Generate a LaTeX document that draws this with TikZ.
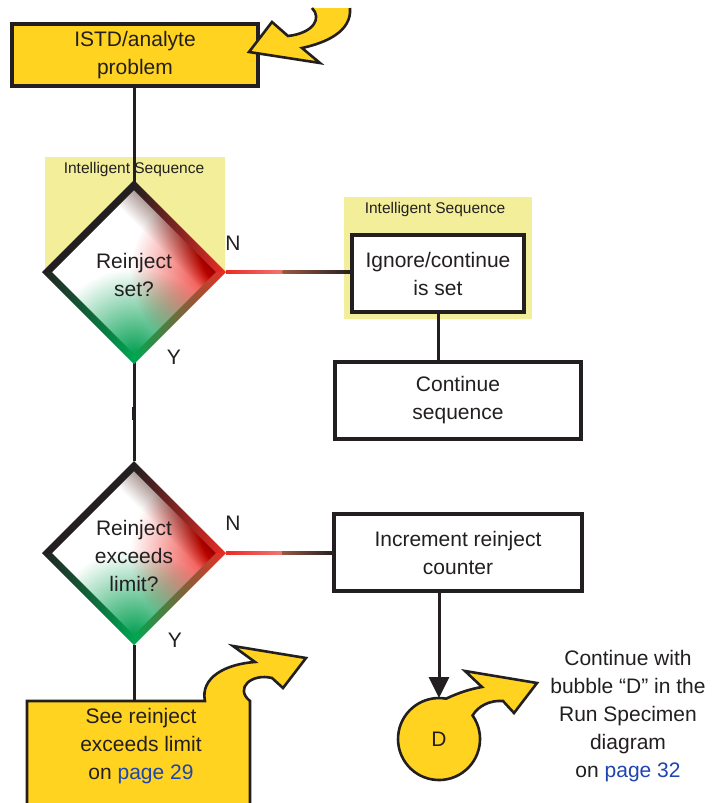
\documentclass[tikz,border=0pt]{standalone}
\usepackage{fontspec}
\setmainfont{Liberation Sans}
\usetikzlibrary{calc,arrows.meta,shapes.geometric}
\definecolor{darkc}{HTML}{231F20}
\definecolor{yellowc}{HTML}{FFD320}
\definecolor{palec}{HTML}{F3EE99}
\definecolor{redc}{HTML}{EC2A24}
\definecolor{greenc}{HTML}{00A651}
\definecolor{brownc}{HTML}{9C5642}
\definecolor{linkc}{HTML}{1F45B0}
\pgfdeclarefunctionalshading{gemfill}{\pgfpoint{-50bp}{-50bp}}{\pgfpoint{50bp}{50bp}}{}{
 25 div exch 25 div exch
 1 index 1 sub dup mul 1 index dup mul add sqrt 1.05 div 1 exch sub dup 0 lt {pop 0} if
 2 index dup mul 2 index 1 add dup mul add sqrt 1.05 div 1 exch sub dup 0 lt {pop 0} if
 3 index 3 index add 1 exch sub 0.4 div 1 exch sub dup 0 lt {pop 0} if 0.5 mul
 5 3 roll pop pop
 2 index 0.075 mul 1 exch sub 2 index sub 1 index 0.65 mul sub
 3 index 0.835 mul 1 exch sub 3 index 0.38 mul sub 2 index 0.8 mul sub
 4 index 0.859 mul 1 exch sub 4 index 0.69 mul sub 3 index 0.83 mul sub
 6 3 roll pop pop pop
}
\newcommand\mainf{\fontsize{21}{28}\selectfont}
\newcommand\smallf{\fontsize{15.5}{18}\selectfont}
\newcommand\gemshape[2]{%
\begin{scope}[shift={(#1,#2)}]
 \shade[shading=gemfill] (0,-83)--(83,0)--(0,83)--(-83,0)--cycle;
 \fill[darkc] (-92,0)--(0,-92)--(0,-82)--(-82,0)--cycle;
 \shade[left color=darkc, right color=redc] (0,-92)--(92,0)--(82,0)--(0,-82)--cycle;
 \shade[left color=greenc, right color=redc] (92,0)--(0,92)--(0,82)--(82,0)--cycle;
 \shade[left color=darkc, right color=greenc] (0,92)--(-92,0)--(-82,0)--(0,82)--cycle;
\end{scope}}
\tikzset{
 box/.style={draw=darkc, line width=3.2pt, fill=white, align=center, inner sep=0pt, outer sep=0pt, font=\mainf, text=darkc},
 yelbox/.style={box, fill=yellowc},
 dia/.style={diamond, minimum width=184pt, minimum height=184pt, inner sep=0pt, outer sep=0pt, align=center, font=\mainf, text=darkc},
 pale/.style={fill=palec},
 smalllbl/.style={font=\smallf, text=darkc, inner sep=0pt},
 lbl/.style={font=\mainf, text=darkc, inner sep=0pt, align=center},
 conn/.style={draw=darkc, line width=3pt},
 yelshape/.style={fill=yellowc},
 arrowline/.style={draw=darkc, line width=2.6pt, line join=miter}
}
\begin{document}
\begin{tikzpicture}[x=1pt, y=-1pt]
\useasboundingbox (0,0) rectangle (717,803);
\clip (0,0) rectangle (717,803);
\fill[white] (0,0) rectangle (717,803);

% pale "Intelligent Sequence" panels
\fill[pale] (45,157) rectangle (225,272);
\node[smalllbl] (is1) at (134,169) {Intelligent Sequence};
\fill[pale] (344,197) rectangle (532,319);
\node[smalllbl] (is2) at (435,209) {Intelligent Sequence};

% boxes
\node[yelbox, minimum width=246pt, minimum height=62pt] (istd) at (135,55) {ISTD/analyte\\problem};
\node[box, minimum width=172pt, minimum height=77pt] (ign) at (438,273.5) {Ignore/continue\\is set};
\node[box, minimum width=246pt, minimum height=77pt] (cont) at (458,400.5) {Continue\\sequence};
\node[box, minimum width=248pt, minimum height=77pt] (inc) at (458,552.5) {Increment reinject\\counter};

% diamond nodes (names; drawn by \gemshape)
\node[dia] (d1) at (134,272) {};
\node[dia] (d2) at (134,553) {};

% main vertical spine, drawn under the diamonds
\draw[conn] (istd.south -| d1.north) -- (d2.north);
\draw[darkc, line width=4.6pt] ($(d1.south)+(0,43)$) -- ($(d1.south)+(0,56)$);
\draw[conn] (ign.south) -- (ign.south |- cont.north);

\path (d1.east) -- (d1.east -| ign.west) coordinate[pos=0.45] (n1m) coordinate[pos=1] (n1e);
\shade[left color=redc, right color=redc!65!white] ($(d1.east)+(0,-1.2)$) rectangle ($(n1m)+(0,1.2)$);
\shade[left color=brownc, right color=darkc] ($(n1m)+(0,-1.8)$) rectangle ($(n1e)+(0,1.8)$);
\path (d2.east) -- (d2.east -| inc.west) coordinate[pos=0.52] (n2m) coordinate[pos=1] (n2e);
\shade[left color=redc, right color=redc!65!white] ($(d2.east)+(0,-1.2)$) rectangle ($(n2m)+(0,1.2)$);
\shade[left color=brownc, right color=darkc] ($(n2m)+(0,-1.8)$) rectangle ($(n2e)+(0,1.8)$);

% diamonds
\gemshape{134}{272}
\node[lbl] (t1) at ($(d1.center)+(0,3)$) {Reinject\\set?};
\gemshape{134}{553}
\node[lbl] (t2) at ($(d2.center)+(0,3)$) {Reinject\\exceeds\\limit?};

% labels
\node[lbl] (n1) at (233,243) {N};
\node[lbl] (y1) at (174,357) {Y};
\node[lbl] (n2) at (233,523) {N};
\node[lbl] (y2) at (175,640) {Y};

% see box with tail
\fill[yelshape] (27,810) -- (27,701) -- (205,701) .. controls (200,678) and (225,664) .. (255,662) -- (233,646) -- (306,658) -- (283,688) -- (272,678) .. controls (252,673) and (234,688) .. (250,701) -- (250,810) -- cycle;
\draw[arrowline] (27,810) -- (27,701) -- (205,701) .. controls (200,678) and (225,664) .. (255,662) -- (233,646) -- (306,658) -- (283,688) -- (272,678) .. controls (252,673) and (234,688) .. (250,701) -- (250,810);
\node[lbl] (see) at (141,746) {See reinject\\exceeds limit\\on {\color{linkc}page 29}};
\draw[conn] (d2.south) -- (d2.south |- 0,701);

% D bubble with tail
\node[circle, minimum size=82pt, inner sep=0pt, outer sep=0pt] (dc) at (439,739) {};
\fill[yelshape] (472.6,715.5) arc[start angle=-35, end angle=280, radius=41] .. controls (458,693) and (470,689) .. (482,687) -- (465,671) -- (537,683) -- (514,713) -- (503,701) .. controls (490,700) and (478,706) .. (472.6,715.5) -- cycle;
\draw[arrowline] (472.6,715.5) arc[start angle=-35, end angle=280, radius=41] .. controls (458,693) and (470,689) .. (482,687) -- (465,671) -- (537,683) -- (514,713) -- (503,701) .. controls (490,700) and (478,706) .. (472.6,715.5) -- cycle;
\node[lbl] (dl) at (dc.center) {D};
\draw[conn, -{Triangle[length=21pt, width=20pt]}] (dc.north |- inc.south) -- (dc.north);
\node[lbl] (contw) at (628,716) {Continue with\\bubble “D” in the\\Run Specimen\\diagram\\on {\color{linkc}page 32}};

% top arrow into ISTD box
\fill[yelshape] (312,8) .. controls (322,18) and (314,33) .. (288,36) -- (272,22) -- (249,52) -- (320,63) -- (302,48) .. controls (325,43) and (352,32) .. (350,8) -- cycle;
\draw[arrowline] (312,8) .. controls (322,18) and (314,33) .. (288,36) -- (272,22) -- (249,52) -- (320,63) -- (302,48) .. controls (325,43) and (352,32) .. (350,8);
\end{tikzpicture}
\end{document}
